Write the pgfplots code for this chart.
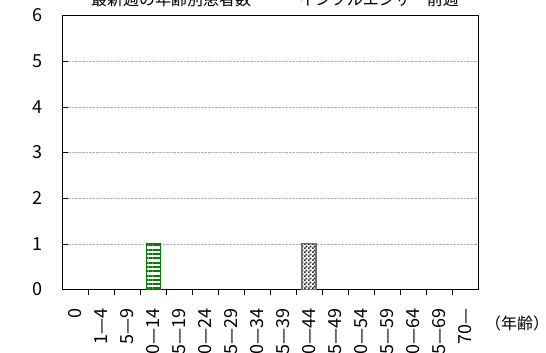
\documentclass[border=0pt]{standalone}
\usepackage{fontspec}
\setmainfont{Noto Sans CJK JP}
\usepackage{pgfplots}
\pgfplotsset{compat=1.18}
\usetikzlibrary{patterns,patterns.meta}
\pgfdeclarepatternformonly{smallchecker}{\pgfpointorigin}{\pgfqpoint{4pt}{4pt}}{\pgfqpoint{4pt}{4pt}}{%
  \pgfpathrectangle{\pgfpointorigin}{\pgfqpoint{2pt}{2pt}}%
  \pgfpathrectangle{\pgfqpoint{2pt}{2pt}}{\pgfqpoint{2pt}{2pt}}%
  \pgfusepath{fill}}
\definecolor{barGreen}{RGB}{0,128,0}
\definecolor{barGray}{RGB}{110,110,110}
\definecolor{checkGray}{RGB}{40,40,40}
\begin{document}
\begin{tikzpicture}
\begin{axis}[
  at={(0,0)}, anchor=south west,
  scale only axis, width=416pt, height=274pt,
  xmin=-0.5, xmax=15.5, ymin=0, ymax=6,
  ytick={0,1,...,6},
  xtick={0,1,...,15},
  xticklabels={0,1—4,5—9,10—14,15—19,20—24,25—29,30—34,35—39,40—44,45—49,50—54,55—59,60—64,65—69,70—},
  minor xtick={0.5,1.5,...,14.5},
  major x tick style={draw=none},
  minor tick length=6pt,
  major tick length=6pt,
  tick align=inside,
  xtick pos=bottom, ytick pos=left,
  ymajorgrids,
  major grid style={densely dotted, gray!60, line width=0.5pt},
  axis line style={black, line width=0.8pt},
  tick style={black, line width=0.6pt},
  /pgf/number format/assume math mode=true,
  ticklabel style={font=\fontsize{18}{20}\selectfont},
  xticklabel style={rotate=90, anchor=east, inner sep=1pt},
  yticklabel style={inner sep=1pt},
  xticklabel shift=12pt,
  yticklabel shift=18pt,
  ybar, bar width=14pt, bar shift=0pt,
  clip=false,
]
\addplot[draw=barGreen, line width=1pt, pattern={Lines[angle=0, distance=4.3pt, line width=2pt]}, pattern color=barGreen]
  coordinates {(3,1)};
\addplot[draw=barGray, line width=1.2pt, pattern=smallchecker, pattern color=checkGray]
  coordinates {(9,1)};
\end{axis}
\node[anchor=base, font=\fontsize{16}{18}\selectfont, inner sep=0pt] at (213pt,284pt) {最新週の年齢別患者数　－　インフルエンザ　前週};
\node[font=\fontsize{16}{18}\selectfont, inner sep=0pt] at (455pt,-33.5pt) {（年齢）};
\pgfresetboundingbox
\useasboundingbox (-62pt,-63.5pt) rectangle (484pt,289.5pt);
\end{tikzpicture}
\end{document}
